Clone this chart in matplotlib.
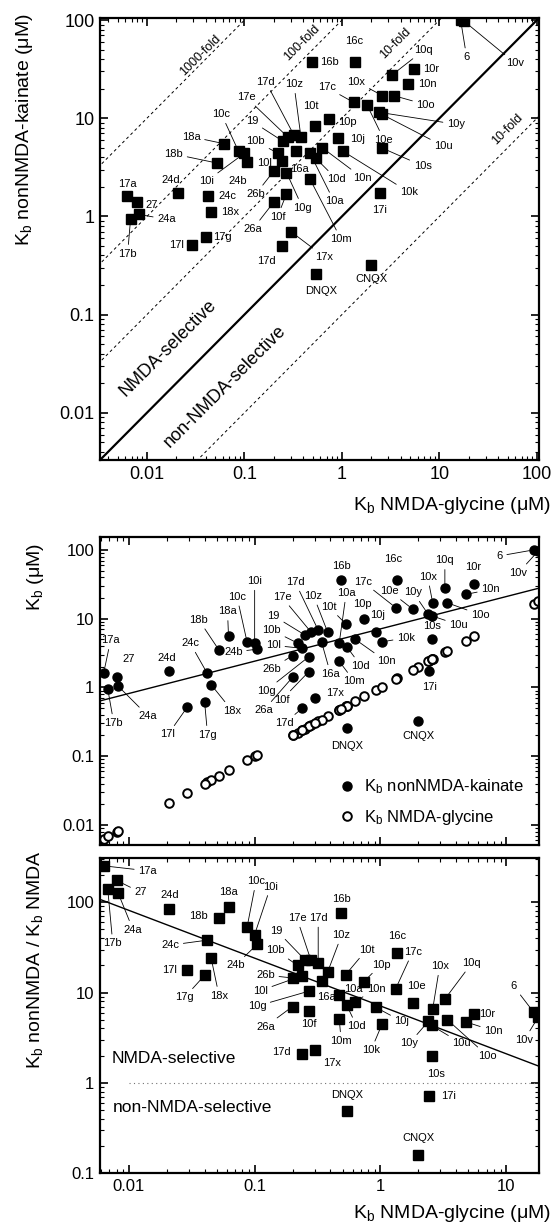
import numpy as np
import matplotlib
matplotlib.use("Agg")
import matplotlib.pyplot as plt
from matplotlib.ticker import LogLocator, FuncFormatter, NullFormatter

plt.rcParams['font.family'] = ['Liberation Sans', 'DejaVu Sans']
plt.rcParams['mathtext.fontset'] = 'custom'
plt.rcParams['mathtext.rm'] = 'Liberation Sans'
plt.rcParams['mathtext.default'] = 'regular'

# =============================================================================
    # Data (Kb in uM)
# =============================================================================
names = ['17a', '27', '17b', '24a', '24d', '24c', '18x', '17l', '17g', '18a',
         '18b', '10c', '10i', '24b', '10b', '19', '17e', '17d', '10z', '16a',
         '10l', '26b', '10g', '26a', '10f', '17d', '17x', '10m', 'DNQX', 'CNQX',
         '17i', '10t', '10p', '10a', '10d', '10n', '10j', '10k', '16b', '16c',
         '17c', '10e', '10x', '10q', '10r', '10n', '10o', '10y', '10u', '10s',
         '6', '10v']

kb_glycine = [0.0063, 0.0080, 0.0068, 0.0082, 0.021, 0.042, 0.045, 0.029, 0.040, 0.062,
              0.052, 0.087, 0.10, 0.105, 0.22, 0.25, 0.28, 0.32, 0.38, 0.34,
              0.24, 0.20, 0.27, 0.20, 0.27, 0.24, 0.30, 0.47, 0.54, 2.0,
              2.45, 0.53, 0.74, 0.47, 0.54, 0.63, 0.92, 1.03, 0.49, 1.35,
              1.32, 1.8, 2.6, 3.25, 5.5, 4.75, 3.4, 2.4, 2.55, 2.55,
              16.5, 18.0]

kb_kainate = [1.6, 1.4, 0.95, 1.05, 1.75, 1.6, 1.1, 0.51, 0.62, 5.5,
              3.5, 4.6, 4.4, 3.6, 4.4, 5.8, 6.4, 6.8, 6.4, 4.6,
              3.7, 2.9, 2.8, 1.4, 1.7, 0.5, 0.7, 2.4, 0.26, 0.32,
              1.75, 8.4, 9.8, 4.4, 3.9, 5.0, 6.3, 4.6, 37, 37,
              14.5, 13.8, 17, 27.5, 32, 22.5, 17, 11.5, 11, 5.0,
              100, 97]

# regression line drawn in the figure: Kb(kainate) = 7.1 * Kb(glycine)^0.47
fit_coef = 7.1
fit_exp = 0.47

fold_levels = [1000, 100, 10, 0.1]

# label offsets in pixels (label centre minus marker), one list per panel
top_offsets = [(0, 12), (14, -3), (-3, -35), (28, -5), (-8, 13), (20, 0), (20, 0), (-15, 0), (17, 0), (-33, 7),
               (-43, 9), (-17, 37), (-38, -28), (-9, -19), (-22, 12), (-31, 20), (-42, 40), (-28, 53), (-7, 53), (3, -18),
               (-17, -2), (-18, -23), (16, -35), (-21, -27), (-9, -23), (-15, -15), (33, -25), (31, -60), (5, -17), (0, -14),
               (0, -17), (-4, 20), (18, -3), (24, -48), (21, -21), (40, -30), (19, -1), (66, -41), (18, 0), (0, 21),
               (-27, 15), (17, -35), (-26, 14), (32, 25), (17, 0), (19, 0), (32, -9), (77, -12), (62, -32), (41, -18),
               (6, -37), (51, -42)]

mid_offsets = [(7, 33), (12, 18), (6, -34), (30, -30), (-3, 13), (-17, 30), (21, -26), (-19, -27), (3, -33), (-1, 25),
               (-20, 30), (-10, 45), (0, 62), (-24, -3), (-26, 13), (-31, 19), (-29, 35), (-23, 48), (-14, 36), (9, -32),
               (-29, 3), (-21, -13), (-43, -34), (-29, -33), (-27, -28), (-18, -15), (20, 5), (15, -20), (0, -18), (0, -15),
               (0, -16), (-17, 17), (-2, 15), (7, 50), (14, -19), (31, -22), (2, 17), (24, 4), (0, 14), (-4, 21),
               (-33, 26), (-23, 18), (-5, 26), (0, 28), (0, 17), (25, 5), (33, -12), (-15, 22), (27, -9), (0, 13),
               (-34, -6), (-20, -22)]

bot_offsets = [(44, -5), (24, -12), (5, -54), (15, -37), (0, 14), (-37, -5), (8, -38), (-17, 0), (-20, -22), (0, 15),
               (-20, 2), (9, 46), (16, 48), (-22, -21), (-22, 15), (-28, 29), (-14, 42), (0, 45), (14, 37), (5, -16),
               (-42, -15), (-27, 3), (-52, -15), (-27, -20), (0, -13), (-21, 2), (17, -13), (2, -22), (0, 16), (0, 17),
               (19, 0), (21, 25), (17, 17), (14, 6), (10, -21), (21, 13), (26, -14), (-11, -26), (0, 14), (0, 17),
               (17, 37), (4, 17), (7, 43), (27, 36), (14, 0), (28, -9), (40, -36), (-19, -22), (30, -18), (4, -18),
               (-20, 26), (-14, -23)]

gly = np.array(kb_glycine)
kai = np.array(kb_kainate)
ratio = kai / gly

# =============================================================================
    # Figure
# =============================================================================
W, H = 557, 1225
fig = plt.figure(figsize=(W / 100, H / 100), dpi=100)

def box(l, t, r, b):
    return [l / W, 1 - b / H, (r - l) / W, (b - t) / H]

def style(ax, fs):
    ax.set_xscale('log')
    ax.set_yscale('log')
    fmt = FuncFormatter(lambda v, p: f'{v:g}')
    for axis in (ax.xaxis, ax.yaxis):
        axis.set_major_locator(LogLocator(base=10, numticks=20))
        axis.set_minor_locator(LogLocator(base=10, subs=np.arange(2, 10), numticks=20))
        axis.set_major_formatter(fmt)
        axis.set_minor_formatter(NullFormatter())
    ax.tick_params(which='both', direction='in', top=True, right=True, labelsize=fs)
    ax.tick_params(which='major', length=6, width=1.2, pad=4)
    ax.tick_params(which='minor', length=3, width=0.8)
    for s in ax.spines.values():
        s.set_linewidth(1.6)

def add_labels(ax, xs, ys, offsets, fs=8):
    for name, x, y, (dx, dy) in zip(names, xs, ys, offsets):
        props = None
        if np.hypot(dx, dy) > 22:
            props = dict(arrowstyle='-', color='k', lw=0.6, shrinkA=1, shrinkB=3)
        ax.annotate(name, (x, y), xytext=(dx, dy), textcoords='offset pixels',
                    ha='center', va='center', fontsize=fs, arrowprops=props)

kb = 'K$_\\mathregular{b}$'

# ---- top panel: kainate vs glycine
ax1 = fig.add_axes(box(100, 18, 539, 460))
style(ax1, 13)
diag = np.array([1e-4, 1e4])
ax1.plot(diag, diag, 'k-', lw=1.6)
for f in fold_levels:
    ax1.plot(diag, diag * f, color='k', lw=0.7, ls=(0, (3, 3)))
ax1.plot(gly, kai, 's', color='k', ms=6.5)
add_labels(ax1, gly, kai, top_offsets)
ax1.set_xlim(0.0033, 105)
ax1.set_ylim(0.0033, 105)

ax1.text(0.035, 44, '1000-fold', rotation=45, ha='center', va='center', fontsize=9)
ax1.text(0.39, 58, '100-fold', rotation=45, ha='center', va='center', fontsize=9)
ax1.text(3.56, 58, '10-fold', rotation=45, ha='center', va='center', fontsize=9)
ax1.text(50, 7.7, '10-fold', rotation=45, ha='center', va='center', fontsize=9)
ax1.text(0.0164, 0.045, 'NMDA-selective', rotation=45, ha='center', va='center', fontsize=13)
ax1.text(0.0625, 0.0185, 'non-NMDA-selective', rotation=45, ha='center', va='center', fontsize=13)

fig.text(25 / W, 1 - 13 / H, kb + ' nonNMDA-kainate (μM)', rotation=90, ha='center', va='top', fontsize=14)
fig.text(551 / W, 1 - 505 / H, kb + ' NMDA-glycine (μM)', ha='right', va='center', fontsize=14)

# ---- middle panel: both Kb values vs glycine Kb
ax2 = fig.add_axes(box(100, 537, 539, 845))
style(ax2, 12)
ax2.tick_params(labelbottom=False)
ax2.set_xlim(0.0059, 18.2)
ax2.set_ylim(0.0051, 154)
xs = np.logspace(np.log10(0.0059), np.log10(18.2), 50)
ax2.plot(xs, fit_coef * xs ** fit_exp, 'k-', lw=1)
ax2.plot(gly, gly, 'o', mfc='white', mec='k', mew=1.4, ms=6.2, label=kb + ' NMDA-glycine')
ax2.plot(gly, kai, 'o', color='k', ms=6.5, label=kb + ' nonNMDA-kainate')
add_labels(ax2, gly, kai, mid_offsets)
h, l = ax2.get_legend_handles_labels()
ax2.legend(h[::-1], l[::-1], loc='lower right', bbox_to_anchor=(1.0, 0.01), frameon=False,
           fontsize=12, handletextpad=0.4, labelspacing=0.7, handlelength=1.2)
fig.text(36 / W, 1 - 543 / H, kb + ' (μM)', rotation=90, ha='center', va='top', fontsize=14)

# ---- bottom panel: selectivity ratio
ax3 = fig.add_axes(box(100, 858, 539, 1173))
style(ax3, 12)
ax3.set_xlim(0.0059, 18.2)
ax3.set_ylim(0.1, 310)
ax3.plot(xs, fit_coef * xs ** (fit_exp - 1), 'k-', lw=1)
ax3.plot([0.01, 18.2], [1, 1], ls=(0, (1, 3)), color='0.45', lw=0.8)
ax3.plot(gly, ratio, 's', color='k', ms=6.5)
add_labels(ax3, gly, ratio, bot_offsets)
ax3.text(0.0073, 1.85, 'NMDA-selective', ha='left', va='center', fontsize=12.5)
ax3.text(0.0074, 0.53, 'non-NMDA-selective', ha='left', va='center', fontsize=12.5)
fig.text(35 / W, 1 - 850 / H, kb + ' nonNMDA / ' + kb + ' NMDA', rotation=90, ha='center', va='top', fontsize=14)
fig.text(551 / W, 1 - 1213 / H, kb + ' NMDA-glycine (μM)', ha='right', va='center', fontsize=14)

fig.savefig('out.png', dpi=100)
